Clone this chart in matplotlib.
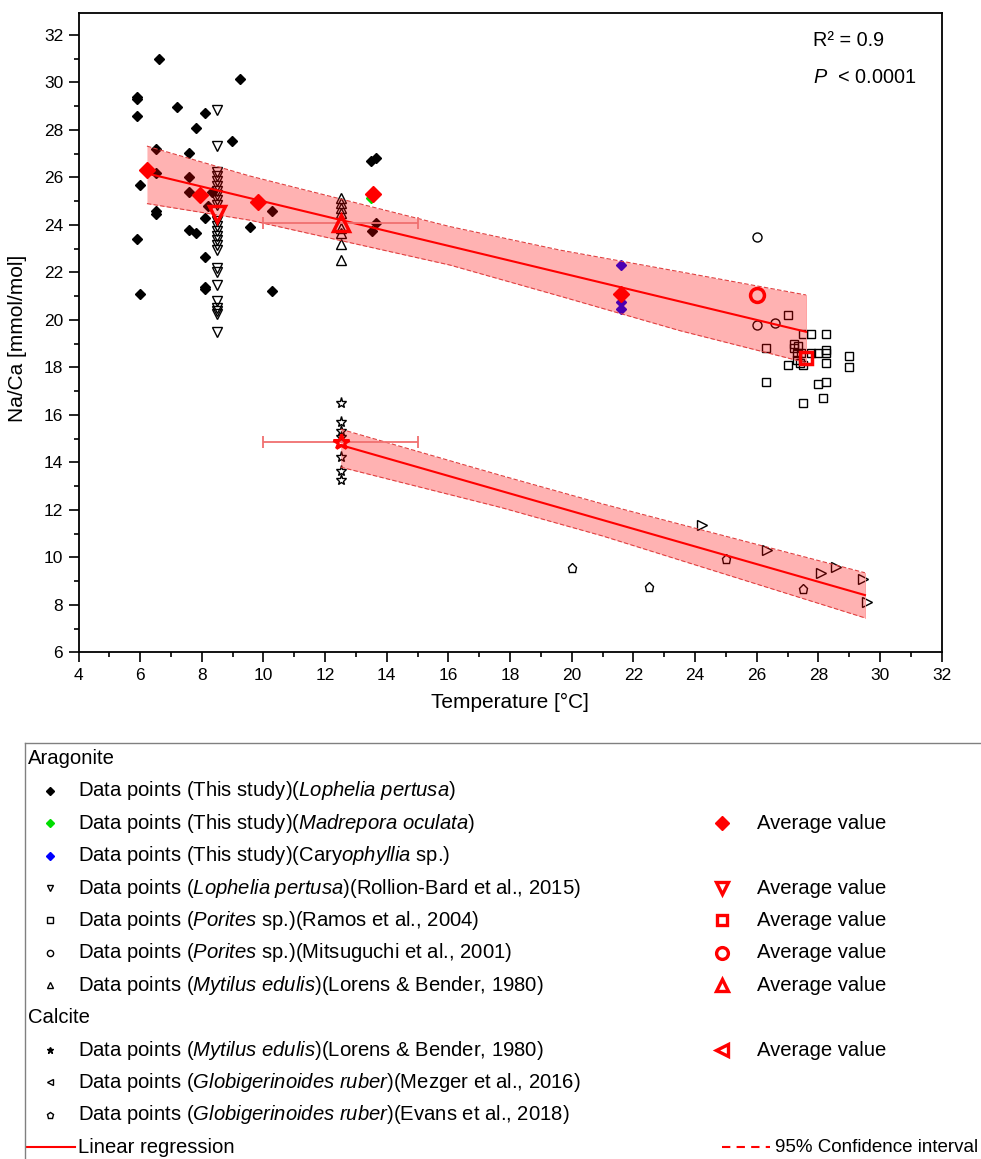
import matplotlib
matplotlib.use('Agg')
import matplotlib.pyplot as plt

plt.rcParams['font.family'] = ['Liberation Sans', 'DejaVu Sans']
plt.rcParams['mathtext.fontset'] = 'custom'
plt.rcParams['mathtext.rm'] = 'Liberation Sans'
plt.rcParams['mathtext.it'] = 'Liberation Sans:italic'

# %% data
# Aragonite - this study
loph_x = [6.61, 9.25, 5.91, 5.91, 5.91, 7.21, 8.11, 7.81, 8.98, 6.52, 7.6, 6.52, 7.6, 7.6, 6.01, 8.33, 8.2,
          10.29, 6.52, 6.52, 8.11, 9.55, 7.6, 7.82, 5.91, 8.11, 8.11, 8.11, 6.01, 10.29, 13.49, 13.66, 13.66, 13.52]
loph_y = [31.0, 30.15, 29.4, 29.3, 28.6, 28.95, 28.7, 28.1, 27.55, 27.2, 27.05, 26.2, 26.0, 25.4, 25.7, 25.4, 24.8,
          24.6, 24.6, 24.45, 24.3, 23.9, 23.8, 23.65, 23.4, 22.65, 21.4, 21.3, 21.1, 21.2, 26.7, 26.8, 24.1, 23.75]
madr_x = [13.5]
madr_y = [25.15]
cary_x = [21.6, 21.6, 21.6]
cary_y = [22.3, 20.77, 20.46]
# averages (This study)
avg_d_x = [6.22, 7.95, 9.82, 13.55, 21.6]
avg_d_y = [26.3, 25.28, 24.95, 25.3, 21.1]

# Rollion-Bard et al., 2015
roll_y = [28.84, 27.32, 26.24, 26.05, 25.85, 25.65, 25.45, 25.25, 25.05, 24.85, 24.15, 23.95, 23.75, 23.55,
          23.35, 23.15, 22.95, 22.2, 22.0, 21.45, 20.8, 20.5, 20.38, 20.25, 19.5]
roll_x = [8.5] * len(roll_y)
roll_avg = (8.5, 24.45)

# Ramos et al., 2004
ramos_x = [27.0, 27.5, 27.75, 28.25, 27.2, 27.2, 27.35, 26.3, 27.3, 27.45, 27.75, 28.0, 28.25, 28.25, 27.3,
           27.4, 27.0, 27.5, 28.25, 29.0, 29.0, 26.3, 28.0, 28.25, 27.5, 28.15]
ramos_y = [20.2, 19.4, 19.4, 19.4, 19.0, 18.8, 18.9, 18.8, 18.6, 18.6, 18.6, 18.6, 18.75, 18.6, 18.3,
           18.2, 18.1, 18.1, 18.2, 18.5, 18.0, 17.4, 17.3, 17.4, 16.5, 16.7]
ramos_avg = (27.6, 18.4)

# Mitsuguchi et al., 2001
mits_x = [26.0, 26.0, 26.6]
mits_y = [23.48, 19.8, 19.88]
mits_avg = (26.0, 21.03)

# Mytilus edulis (aragonite)
myta_y = [25.12, 24.91, 24.7, 24.49, 23.86, 23.65, 23.2, 22.53]
myta_x = [12.5] * len(myta_y)
myta_avg = (12.5, 24.07)

# Calcite - Mytilus edulis
mytc_y = [16.5, 15.71, 15.33, 15.08, 14.21, 13.65, 13.26]
mytc_x = [12.5] * len(mytc_y)
mytc_avg = (12.5, 14.87)

# Globigerinoides ruber
mezg_x = [24.24, 26.34, 28.08, 28.57, 29.46, 29.57]
mezg_y = [11.36, 10.31, 9.35, 9.58, 9.09, 8.13]
evans_x = [20.0, 22.5, 25.0, 27.5]
evans_y = [9.54, 8.76, 9.93, 8.65]

temp_err = 2.5

# regression lines + 95% CI edges
arag_fit_x = [6.22, 27.6]
arag_fit_y = [26.17, 19.5]
arag_ci_x = [6.22, 9.56, 16.05, 19.62, 23.5, 27.6]
arag_ci_up = [27.32, 26.06, 23.93, 22.94, 22.03, 21.05]
arag_ci_lo = [24.9, 24.2, 22.31, 21.0, 19.55, 18.2]

calc_fit_x = [12.5, 29.51]
calc_fit_y = [14.73, 8.41]
calc_ci_x = [12.5, 17.7, 21.0, 29.51]
calc_ci_up = [15.4, 13.45, 12.25, 9.35]
calc_ci_lo = [13.8, 12.1, 10.9, 7.45]

# %% figure
fig = plt.figure(figsize=(9.81, 11.59), dpi=100)
W, H = 981, 1159
ax = fig.add_axes([78.5 / W, 1 - 652.3 / H, (941.7 - 78.5) / W, (652.3 - 13.3) / H])

def pts(x, y, m, ms, fc='none', ec='black', mew=1.0, z=2):
    ax.plot(x, y, ls='none', marker=m, ms=ms, mfc=fc, mec=ec, mew=mew, zorder=z)

pts(loph_x, loph_y, 'D', 4.8, fc='black')
pts(madr_x, madr_y, 'D', 4.8, fc='#00dd00', ec='#00dd00')
pts(cary_x, cary_y, 'D', 4.8, fc='#0000ff', ec='#0000ff')
pts(roll_x, roll_y, 'v', 7)
pts(ramos_x, ramos_y, 's', 6.3)
pts(mits_x, mits_y, 'o', 6.5)
pts(myta_x, myta_y, '^', 7)
pts(mytc_x, mytc_y, '*', 8)
pts(mezg_x, mezg_y, '>', 7)
pts(evans_x, evans_y, 'p', 6.5)

# confidence bands
for bx, up, lo in [(arag_ci_x, arag_ci_up, arag_ci_lo), (calc_ci_x, calc_ci_up, calc_ci_lo)]:
    ax.fill_between(bx, lo, up, color='red', alpha=0.3, lw=0, zorder=3)
    ax.plot(bx, up, color='#e04040', lw=0.8, dashes=(4, 2), zorder=3)
    ax.plot(bx, lo, color='#e04040', lw=0.8, dashes=(4, 2), zorder=3)
    ax.plot([bx[-1], bx[-1]], [lo[-1], up[-1]], color='#ff9a9a', lw=0.6, zorder=3)

ax.plot(arag_fit_x, arag_fit_y, color='red', lw=1.5, zorder=4)
ax.plot(calc_fit_x, calc_fit_y, color='red', lw=1.5, zorder=4)

# x error bars on the Mytilus averages
ax.errorbar([myta_avg[0], mytc_avg[0]], [myta_avg[1], mytc_avg[1]], xerr=temp_err, fmt='none',
            ecolor='#f07070', elinewidth=1.3, capsize=4.5, capthick=1.3, zorder=4)

# averages
pts(avg_d_x, avg_d_y, 'D', 8.5, fc='red', ec='red', z=5)
pts([roll_avg[0]], [roll_avg[1]], 'v', 11.5, ec='red', mew=2.5, z=5)
pts([ramos_avg[0]], [ramos_avg[1]], 's', 9, ec='red', mew=2.5, z=5)
pts([mits_avg[0]], [mits_avg[1]], 'o', 10, ec='red', mew=2.5, z=5)
pts([myta_avg[0]], [myta_avg[1]], '^', 11.5, ec='red', mew=2.5, z=5)
pts([mytc_avg[0]], [mytc_avg[1]], '*', 11.5, ec='red', mew=2.2, z=5)

ax.set_xlim(4, 32)
ax.set_ylim(6, 32.914)
ax.set_xticks(range(4, 33, 2))
ax.set_xticks(range(5, 32, 2), minor=True)
ax.set_yticks(range(6, 33, 2))
ax.set_yticks(range(7, 33, 2), minor=True)
ax.tick_params(which='major', direction='out', length=7, width=1.2, labelsize=12.5, pad=4)
ax.tick_params(which='minor', direction='out', length=3.6, width=1.2)
for s in ax.spines.values():
    s.set_linewidth(1.3)

ax.text(0.851, 0.958, 'R² = 0.9', transform=ax.transAxes, fontsize=14.3, va='center')
ax.text(0.851, 0.900, r'$\mathit{P}$  < 0.0001', transform=ax.transAxes, fontsize=14.3, va='center')

fig.text(510 / W, 1 - 702 / H, 'Temperature [°C]', fontsize=15, ha='center', va='center')
fig.text(18 / W, 1 - 338 / H, 'Na/Ca [mmol/mol]', fontsize=15, ha='center', va='center', rotation=90)

# %% legend box (drawn by hand, pixel coords)
box_left, box_top = 25, 743
lax = fig.add_axes([box_left / W, -0.01, 1 - box_left / W + 0.01, (1 - box_top / H) + 0.01])
lax.set_xlim(box_left, box_left + (1 - box_left / W + 0.01) * W)
lax.set_ylim(H + 0.01 * H, box_top)
lax.set_xticks([])
lax.set_yticks([])
for s in lax.spines.values():
    s.set_color('#808080')
    s.set_linewidth(1.0)

leg_labels = [
    'Aragonite',
    r'Data points (This study)($\mathit{Lophelia\ pertusa}$)',
    r'Data points (This study)($\mathit{Madrepora\ oculata}$)',
    r'Data points (This study)(Cary$\mathit{ophyllia}$ sp.)',
    r'Data points ($\mathit{Lophelia\ pertusa}$)(Rollion-Bard et al., 2015)',
    r'Data points ($\mathit{Porites}$ sp.)(Ramos et al., 2004)',
    r'Data points ($\mathit{Porites}$ sp.)(Mitsuguchi et al., 2001)',
    r'Data points ($\mathit{Mytilus\ edulis}$)(Lorens & Bender, 1980)',
    'Calcite',
    r'Data points ($\mathit{Mytilus\ edulis}$)(Lorens & Bender, 1980)',
    r'Data points ($\mathit{Globigerinoides\ ruber}$)(Mezger et al., 2016)',
    r'Data points ($\mathit{Globigerinoides\ ruber}$)(Evans et al., 2018)',
]
leg_markers = [None, 'D', 'D', 'D', 'v', 's', 'o', '^', None, '*', '<', 'p']
leg_colors = [None, 'black', '#00dd00', '#0000ff', 'none', 'none', 'none', 'none', None, 'black', 'none', 'none']
avg_markers = [None, None, 'D', None, 'v', 's', 'o', '^', None, '<', None, None]

fs = 14.6
row0, step = 758.5, 32.4
for i, lab in enumerate(leg_labels):
    y = row0 + i * step
    m = leg_markers[i]
    if m is None:
        lax.text(28, y, lab, fontsize=fs, va='center', ha='left')
        continue
    fc = leg_colors[i]
    ec = fc if fc != 'none' else 'black'
    ms = 3.6 if m == 'D' else 4.5
    lax.plot([50], [y], ls='none', marker=m, ms=ms, mfc=fc, mec=ec, mew=1.0)
    lax.text(78, y, lab, fontsize=fs, va='center', ha='left')
    am = avg_markers[i]
    if am is not None:
        if am == 'D':
            lax.plot([722], [y], ls='none', marker='D', ms=7, mfc='red', mec='red')
        else:
            lax.plot([722], [y], ls='none', marker=am, ms=8.5 if am != 's' else 7, mfc='none', mec='red', mew=2.4)
        lax.text(757, y, 'Average value', fontsize=fs, va='center', ha='left')

yl = row0 + 12 * step
lax.plot([25, 75], [yl, yl], color='red', lw=1.5)
lax.text(78, yl, 'Linear regression', fontsize=fs, va='center', ha='left')
lax.plot([722, 770], [yl, yl], color='red', lw=1.5, dashes=(4, 3))
lax.text(978, yl, '95% Confidence interval', fontsize=13.5, va='center', ha='right')

fig.savefig('out.png', dpi=100)
